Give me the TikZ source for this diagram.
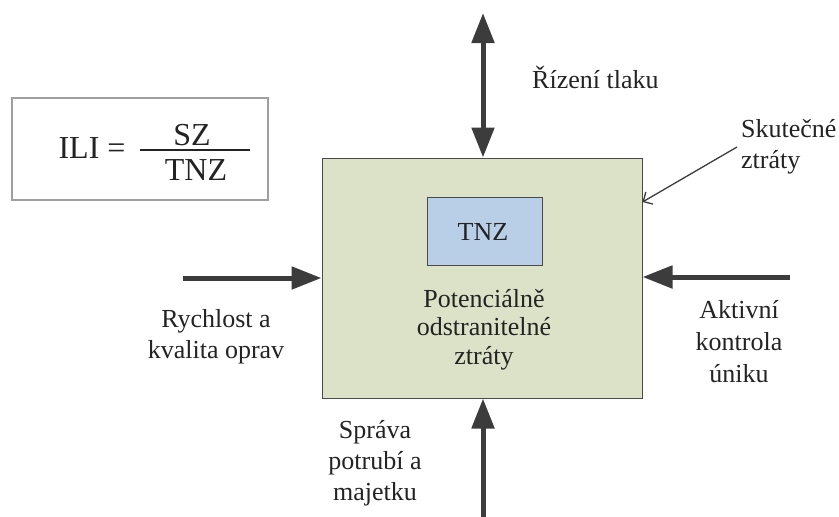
\documentclass[tikz,border=0pt]{standalone}
\usepackage{fontspec}
\setmainfont{Liberation Serif}
\usepackage{xcolor}
\usetikzlibrary{arrows.meta}
\usetikzlibrary{positioning}
\definecolor{lossgreen}{HTML}{DCE2C8}
\definecolor{lossblue}{HTML}{B9CFE7}
\definecolor{framegray}{HTML}{4A4A4A}
\definecolor{arrowgray}{HTML}{3C3C3C}
\definecolor{textgray}{HTML}{232323}

\begin{document}
\begin{tikzpicture}[x=1pt,y=-1pt,
	every node/.style={text=textgray,font=\fontsize{26}{31}\selectfont},
	lbl/.style={align=center,inner sep=0pt,anchor=base},
	fat/.style={draw=arrowgray,line width=5pt,-{Triangle[length=30pt,width=22pt]}},
	fatboth/.style={fat,{Triangle[length=30pt,width=22pt]}-{Triangle[length=30pt,width=22pt]}}]
	\useasboundingbox (0,0) rectangle (839,517);

	% ILI box
	\node[draw=gray!75,line width=1.2pt,minimum width=256pt,minimum height=102pt,inner sep=0pt] (ili) at (140,149) {};
	\node[lbl,font=\fontsize{32}{38}\selectfont] (ilitxt) at (92,158) {ILI =};
	\node[lbl,font=\fontsize{32}{38}\selectfont] (sz) at (192,145) {SZ};
	\node[lbl,font=\fontsize{32}{38}\selectfont] (tnzb) at (196,180) {TNZ};
	\coordinate (barl) at (140,150);
	\coordinate (barr) at (250,150);
	\draw[textgray,line width=1.3pt] (barl) -- (barr);

	% main box
	\node[draw=framegray,fill=lossgreen,line width=1pt,minimum width=320pt,minimum height=240pt,inner sep=0pt] (loss) at (482,278) {};
	\node[draw=framegray,fill=lossblue,line width=1pt,minimum width=115pt,minimum height=68pt,inner sep=0pt] (tnz) at (484.5,231) {};
	\node[lbl] (tnztxt) at (483,240) {TNZ};
	% base = last line
	\node[lbl,font=\fontsize{26}{28.5}\selectfont] (pot) at (484,364) {Potenciálně\\odstranitelné\\ztráty};

	% arrows
	\coordinate (topend) at (483,13);
	\coordinate (leftend) at (183,278);
	\coordinate (rightend) at (790,277);
	\coordinate (botend) at (483,517);
	\draw[fatboth] (topend) -- (loss.north -| topend);
	\draw[fat] (leftend) -- (loss.west |- leftend);
	\draw[fat] (rightend) -- (loss.east |- rightend);
	\draw[fat] (botend) -- (loss.south -| botend);

	% labels
	\node[lbl,anchor=base west] (rizeni) at (532,88) {Řízení tlaku};
	\node[lbl,align=left,anchor=base west] (skut) at (741,168) {Skutečné\\ztráty};
	\node[lbl] (rychl) at (216,358) {Rychlost a\\kvalita oprav};
	\node[lbl,font=\fontsize{26}{32}\selectfont] (aktiv) at (739,382) {Aktivní\\kontrola\\úniku};
	\node[lbl] (sprava) at (375,500) {Správa\\potrubí a\\majetku};

	\coordinate (skutend) at (737,147);
	\draw[arrowgray,line width=1.3pt,-{Straight Barb[length=7pt,width=14pt]}] (skutend) -- (loss.east |- 0,202);
\end{tikzpicture}
\end{document}
